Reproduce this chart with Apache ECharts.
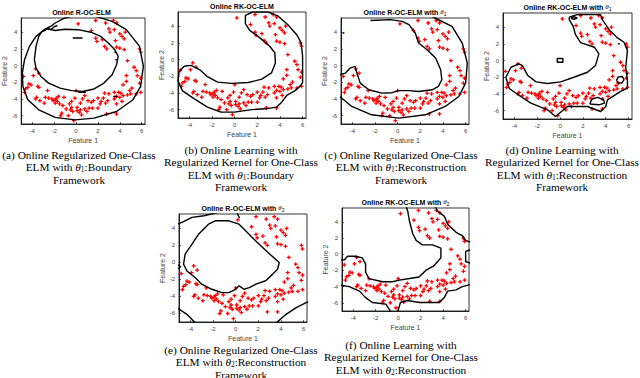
<!DOCTYPE html>
<html><head><meta charset="utf-8">
<script src="https://cdn.jsdelivr.net/npm/echarts@6/dist/echarts.min.js"></script>
<style>html,body{margin:0;padding:0;background:#fff}#c{width:640px;height:378px}</style>
</head><body><div id="c"></div>
<script>
// ---- tick labels ----
const xTicks = [-4, -2, 0, 2, 4, 6];
const yTicks = [-6, -4, -2, 0, 2, 4];
// ---- data points (Feature 1, Feature 2) ----
const featX = [0.2,1.8,2.7,3.4,3.7,1.4,3.0,3.1,3.5,4.0,4.2,4.4,4.5,1.8,1.9,2.4,2.6,2.8,3.6,3.7,4.0,4.4,5.8,5.9,4.7,5.3,5.5,5.6,5.9,4.6,4.6,4.3,5.8,5.1,4.9,
  3.5,3.9,4.1,4.3,4.0,3.7,3.5,4.7,5.0,5.5,5.9,4.2,3.7,3.0,
  2.6,2.5,2.9,2.7,2.3,2.0,1.4,1.1,0.8,0.4,0.0,-0.1,-0.4,-0.6,-0.4,0.1,0.4,0.8,1.2,1.5,2.0,2.8,3.7,-0.3,0.1,-0.9,-0.5,-1.3,-0.2,-0.7,-1.4,0.5,1.6,2.2,0.6,0.3,1.0,
  -1.1,-1.6,-1.8,-1.9,-2.1,-1.7,-2.5,-2.2,-2.9,-3.3,-3.6,-3.7,-3.5,-3.4,-3.7,-3.4,-3.9,-4.3,-4.1,-4.8,-4.7,-4.6,-4.4,-2.6,-1.9,-1.5,-2.8,-1.2];
const featY = [5.0,5.4,5.1,5.4,5.1,4.2,4.4,4.0,4.3,3.8,3.5,3.2,4.0,3.3,2.9,3.1,2.3,2.0,3.0,2.2,2.1,1.9,2.0,1.6,0.6,-0.2,-0.6,-1.2,-1.5,-1.2,-1.9,-2.3,-2.1,-2.7,-3.0,
  -3.2,-3.2,-3.3,-3.6,-3.8,-3.7,-4.0,-3.5,-3.4,-3.4,-3.2,-4.3,-4.6,-3.4,
  -3.3,-3.9,-4.2,-4.5,-4.3,-3.9,-4.4,-4.2,-3.6,-4.5,-3.0,-3.9,-4.3,-4.6,-5.0,-5.0,-5.3,-5.2,-5.1,-5.1,-5.1,-5.8,-5.8,-5.5,-5.4,-5.2,-5.3,-5.7,-6.6,-6.0,-6.0,-5.9,-4.2,-4.6,-4.0,-5.6,-5.5,
  -3.8,-3.7,-3.9,-4.1,-4.2,-4.3,-3.9,-4.0,-4.5,-4.2,-3.8,-4.0,-2.5,-2.6,-0.4,-0.9,-1.2,-2.2,-2.3,-1.3,-3.2,-2.8,-2.6,-3.0,-4.5,-4.6,-3.8,-4.8];
// ---- boundary curves, (Feature 1, Feature 2) ----
const bndA_outer = [[-1.9,5.1],[-2.2,4.8],[-2.9,4.3],[-3.65,3.5],[-4.25,2.3],[-4.7,0.7],[-4.9,-0.9],[-4.85,-2.5],[-4.4,-4.1],[-3.4,-5.3],[-1.9,-6.2],[-0.1,-6.5],[1.65,-6.3],[3.7,-5.5],[5.2,-4.1],[5.9,-2.5],[6.15,-0.1],[5.8,2.3],[4.6,4.3],[3.3,5.3],[1.8,5.9],[0,6.1],[-1.2,5.6],[-1.9,5.1]];
const bndA_inner = [[-2.6,4.4],[-3.1,4.1],[-3.4,3.5],[-3.65,2.3],[-3.8,0.7],[-3.65,-0.3],[-3.2,-1.3],[-2.5,-2.1],[-1.45,-2.7],[-0.4,-3.0],[0.6,-3.1],[1.65,-2.8],[2.55,-2.1],[3.3,-1.1],[3.7,0.1],[3.85,1.1],[3.55,1.9],[2.95,2.7],[2.25,3.5],[1.35,4.0],[0.2,4.3],[-1.0,4.35],[-1.9,4.2],[-2.6,4.4]];
const bndA_sq = [[-3.0,4.1],[-2.6,4.45],[-2.3,4.3],[-2.0,4.65],[-1.7,4.8]];
const bndA_d1 = [[-0.3,3.3],[0.6,3.3]];
const bndA_d2 = [[0.2,-3.2],[0.9,-3.2]];
const bndA_d3 = [[3.4,-3.7],[3.8,-3.7]];
const bndA_d4 = [[3.5,1.6],[3.65,1.6]];
const bndA_d5 = [[3.6,0.7],[3.75,0.7]];
const bndB = [[0.95,5.3],[1.6,5.7],[2.96,5.7],[3.85,5.2],[4.75,4.1],[5.5,2.95],[5.87,2.0],[6.0,0.4],[6.0,-1.2],[6.0,-2.75],[5.8,-3.15],[5.3,-3.75],[4.6,-4.3],[4.15,-5.1],[3.7,-5.7],[2.67,-5.9],[1.5,-6.0],[0,-6.3],[-1.2,-6.3],[-2.4,-5.7],[-3.55,-4.7],[-4.6,-3.75],[-5.0,-2.55],[-4.9,-1.4],[-4.45,-0.8],[-3.85,-0.7],[-3.1,-1.2],[-2.4,-2.05],[-1.5,-2.7],[-0.3,-2.85],[1.2,-2.75],[2.4,-2.35],[3.25,-1.6],[3.6,-0.4],[3.55,0.8],[3.1,1.6],[2.1,2.75],[1.33,3.5],[0.95,4.3],[0.95,5.3]];
const bndC_inner = [[-2.4,5.4],[-0.65,5.5],[0.4,5.3],[1.0,4.9],[1.55,3.9],[1.85,2.7],[2.6,1.9],[3.35,0.9],[3.8,-0.5],[3.9,-1.7],[3.6,-2.5],[3.05,-2.9],[1.85,-3.1],[1.0,-3.0],[0.1,-3.0],[-0.5,-3.25],[-1.4,-3.3],[-2.55,-2.9],[-3.3,-2.1],[-3.6,-0.9],[-3.75,-0.1],[-4.2,-0.3],[-4.6,-0.9],[-5.2,-1.1]];
const bndC_outer = [[3.0,5.9],[3.3,5.7],[4.8,4.7],[5.7,2.7],[6.15,0.3],[6.0,-2.1],[5.4,-3.7],[4.2,-4.9],[2.45,-5.9],[0.1,-6.3],[-2.3,-5.9],[-4.05,-4.9],[-5.2,-3.6]];
const bndC_d1 = [[-4.85,3.9],[-4.7,3.9]];
const bndC_d2 = [[-5.0,3.3],[-4.9,3.2]];
const bndD_outer = [[0.8,5.2],[1.5,5.5],[3.55,5.5],[3.7,4.9],[4.3,3.7],[5.0,2.75],[5.6,2.2],[5.9,1.2],[5.75,-0.8],[5.9,-2.35],[5.9,-3.3],[5.3,-3.7],[4.15,-4.7],[4.0,-5.5],[3.55,-6.1],[2.4,-5.5],[1.4,-5.5],[0.65,-5.5],[-0.4,-6.7],[-1.1,-5.9],[-2.55,-5.1],[-3.45,-4.3],[-4.45,-3.35],[-4.75,-2.0],[-4.3,-0.8],[-3.6,-0.4],[-3.3,-0.6],[-2.85,-1.75],[-2.1,-2.55],[-1.1,-2.75],[0.05,-2.55],[1.2,-2.0],[2.4,-1.4],[3.1,-0.6],[3.4,0.8],[3.0,1.6],[1.8,2.15],[1.35,3.1],[1.15,4.1],[0.8,4.9],[0.8,5.2]];
const bndD_sq = [[-0.25,-0.2],[0.25,-0.2],[0.25,0.25],[-0.25,0.25],[-0.25,-0.2]];
const bndD_e1 = [[0.95,5.1],[1.2,5.25],[1.5,5.1],[1.2,4.95],[0.95,5.1]];
const bndD_e2 = [[4.95,-2.35],[5.1,-1.95],[5.45,-1.9],[5.6,-2.3],[5.4,-2.7],[5.05,-2.65],[4.95,-2.35]];
const bndD_e3 = [[2.6,-5.2],[2.8,-4.6],[3.3,-4.4],[3.8,-4.7],[3.9,-5.1],[3.4,-5.3],[2.6,-5.2]];
const bndD_d1 = [[5.05,2.0],[5.25,2.0]];
const bndE_inner = [[-2.4,4.5],[-1.8,4.9],[-0.6,4.9],[0.3,4.5],[0.9,3.7],[1.6,2.75],[2.2,2.0],[3.0,1.0],[3.85,0],[3.7,-0.8],[3.25,-1.4],[2.65,-2.15],[1.8,-2.55],[1.2,-2.95],[0.75,-3.15],[0.3,-2.75],[0,-3.15],[-0.6,-3.55],[-1.2,-3.55],[-2.1,-3.15],[-3.0,-2.55],[-3.55,-1.8],[-4.3,-1.0],[-4.6,-0.2],[-4.45,1.0],[-3.85,2.15],[-3.25,3.35],[-2.4,4.5]];
const bndE_tl = [[-5.2,4.45],[-4.6,4.8],[-3.85,5.3],[-2.8,5.5],[-1.5,5.9]];
const bndE_t = [[0.1,5.9],[0.35,5.2]];
const bndE_l = [[-5.2,-0.2],[-4.85,-0.5],[-5.2,-0.8]];
const bndE_bl = [[-5.2,-5.3],[-4.3,-6.1],[-3.7,-6.9],[-3.6,-7.1]];
const bndE_br = [[3.6,-7.1],[4.45,-6.1],[5.35,-5.3],[6.4,-4.6]];
const bndF_inner = [[0.7,5.9],[0.85,5.3],[1.0,4.1],[1.3,2.5],[1.6,1.7],[2.15,1.15],[3.05,1.15],[3.8,0.75],[3.8,-0.45],[3.2,-1.4],[2.45,-2.0],[1.85,-2.8],[1.0,-3.0],[0.1,-3.2],[-0.5,-3.4],[-1.4,-3.4],[-2.6,-3.0],[-2.9,-2.2],[-2.9,-1.2],[-3.2,-0.45],[-3.8,-0.25],[-4.5,-0.25],[-4.8,-0.7],[-5.2,-0.7]];
const bndF_right = [[3.3,5.9],[3.5,5.3],[4.1,4.7],[4.4,3.7],[4.85,3.1],[5.15,2.7],[5.7,2.3],[6.0,1.7],[6.4,1.5]];
const bndF_notch = [[6.4,0.55],[6.0,0.35],[6.0,-0.9],[6.4,-1.1]];
const bndF_br = [[6.4,-3.75],[5.7,-4.0],[5.15,-4.4],[4.4,-4.55],[4.1,-5.35],[3.65,-5.95],[1.9,-5.95],[0.8,-5.7],[0.2,-5.95],[-0.05,-7.1]];
const bndF_bl = [[-5.2,-3.8],[-4.35,-4.0],[-3.45,-4.55],[-2.9,-5.35],[-2.3,-5.95],[-1.1,-6.15],[-0.65,-7.1]];
// ---- texts ----
const panelTitles = ['Online R-OC-ELM','Online RK-OC-ELM','Online R-OC-ELM with {t|θ}{s|1}','Online RK-OC-ELM with {t|θ}{s|1}','Online R-OC-ELM with {t|θ}{s|2}','Online RK-OC-ELM with {t|θ}{s|2}'];
const captions = [
  ['(a) Online Regularized One-Class','ELM with {t|θ}{s|1}:Boundary','Framework'],
  ['(b) Online Learning with','Regularized Kernel for One-Class','ELM with {t|θ}{s|1}:Boundary','Framework'],
  ['(c) Online Regularized One-Class','ELM with {t|θ}{s|1}:Reconstruction','Framework'],
  ['(d) Online Learning with','Regularized Kernel for One-Class','ELM with {t|θ}{s|1}:Reconstruction','Framework'],
  ['(e) Online Regularized One-Class','ELM with {t|θ}{s|2}:Reconstruction','Framework'],
  ['(f) Online Learning with','Regularized Kernel for One-Class','ELM with {t|θ}{s|2}:Reconstruction']
];
const panelCurves = [
  [bndA_outer,bndA_inner,bndA_sq,bndA_d1,bndA_d2,bndA_d3,bndA_d4,bndA_d5],
  [bndB],
  [bndC_inner,bndC_outer,bndC_d1,bndC_d2],
  [bndD_outer,bndD_sq,bndD_e1,bndD_e2,bndD_e3,bndD_d1],
  [bndE_inner,bndE_tl,bndE_t,bndE_l,bndE_bl,bndE_br],
  [bndF_inner,bndF_right,bndF_notch,bndF_br,bndF_bl]
];
// ---- layout ----
const grids = [
  {left:18, top:18, width:127, height:106},
  {left:178, top:12, width:128, height:106},
  {left:341, top:18, width:128, height:106},
  {left:503, top:13, width:129, height:106},
  {left:179, top:214, width:128, height:108},
  {left:342, top:208, width:127, height:103}
];
const capPos = [
  {x:79, y:155}, {x:241, y:150}, {x:401, y:155}, {x:562, y:150}, {x:241, y:350}, {x:401, y:345}
];
const pts = featX.map((x,i)=>[x, featY[i]]);
const plusPath = 'path://M2,0L4,0L4,2L6,2L6,4L4,4L4,6L2,6L2,4L0,4L0,2L2,2Z';
const sans = 'Liberation Sans, Arial, sans-serif';
const serif = 'Liberation Serif, Times New Roman, serif';

const xAxes = [], yAxes = [], series = [], graphics = [];
grids.forEach((g,i)=>{
  xAxes.push({gridIndex:i, type:'value', min:-5, max:6.3,
    axisLine:{show:true, onZero:false, lineStyle:{color:'#000', width:0.8}},
    axisTick:{show:true, inside:true, length:2, customValues:xTicks, lineStyle:{color:'#000', width:0.6}},
    axisLabel:{show:true, customValues:xTicks, fontSize:6, color:'#444', margin:4, fontFamily:sans},
    splitLine:{show:false},
    name:'Feature 1', nameLocation:'middle', nameGap:13, nameTextStyle:{fontSize:7, color:'#444', fontFamily:sans}});
  yAxes.push({gridIndex:i, type:'value', min:-7, max:5.7,
    axisLine:{show:true, onZero:false, lineStyle:{color:'#000', width:0.8}},
    axisTick:{show:true, inside:true, length:2, customValues:yTicks, lineStyle:{color:'#000', width:0.6}},
    axisLabel:{show:true, customValues:yTicks, fontSize:6, color:'#444', margin:4, fontFamily:sans},
    splitLine:{show:false},
    name:'Feature 2', nameLocation:'middle', nameGap:11, nameTextStyle:{fontSize:7, color:'#444', fontFamily:sans}});
  series.push({type:'scatter', xAxisIndex:i, yAxisIndex:i, data:pts, symbol:plusPath, symbolSize:3.8,
    itemStyle:{color:'#ff0000', opacity:1}, silent:true, z:2});
  panelCurves[i].forEach(c=>{
    series.push({type:'line', xAxisIndex:i, yAxisIndex:i, data:c, showSymbol:false, symbol:'none', clip:true,
      lineStyle:{color:'#000', width:1.4}, silent:true, z:3});
  });
  graphics.push({type:'text', x:g.left + g.width/2, y:g.top - 6, silent:true,
    style:{text:panelTitles[i], textAlign:'center', textVerticalAlign:'middle', fontSize:7, fontWeight:'bold', fontFamily:sans, fill:'#000',
      rich:{t:{fontSize:7, fontStyle:'italic', fontWeight:'normal', fontFamily:serif}, s:{fontSize:5, fontWeight:'normal', padding:[3,0,0,0]}}}});
  captions[i].forEach((line,k)=>{
    graphics.push({type:'text', x:capPos[i].x, y:capPos[i].y + k*12.4, silent:true,
      style:{text:line, textAlign:'center', textVerticalAlign:'middle', fontSize:11.3, fontFamily:serif, fill:'#000',
        rich:{t:{fontSize:11.3, fontStyle:'italic', fontFamily:serif}, s:{fontSize:7.5, fontFamily:serif, padding:[5,0,0,0]}}}});
  });
});

const chart = echarts.init(document.getElementById('c'), null, {renderer:'svg'});
chart.setOption({
  animation:false,
  backgroundColor:'#fff',
  grid: grids.map(g=>Object.assign({show:true, borderColor:'#000', borderWidth:0.8, backgroundColor:'transparent'}, g)),
  xAxis: xAxes, yAxis: yAxes, series: series, graphic: graphics
});
</script></body></html>
